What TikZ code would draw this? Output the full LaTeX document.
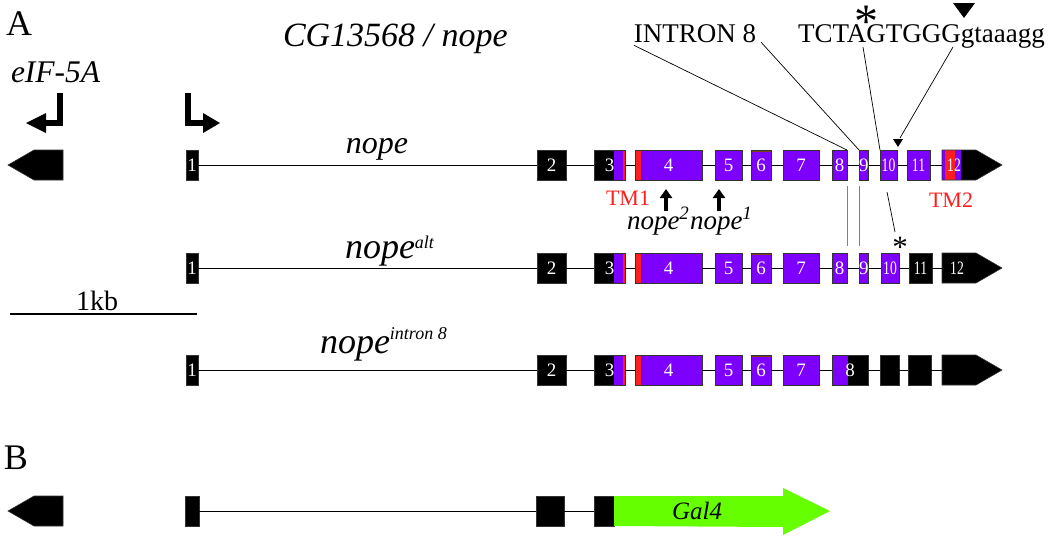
\documentclass[tikz,border=0pt]{standalone}
\usepackage{fontspec}
\setmainfont{Liberation Serif}
\usetikzlibrary{shapes.symbols,arrows.meta}
\definecolor{np}{RGB}{125,0,255}
\definecolor{tmred}{RGB}{255,30,30}
\definecolor{gal}{RGB}{102,255,0}
\definecolor{brn}{RGB}{130,60,30}
\newcommand\fs[1]{\fontsize{#1}{#1}\selectfont}
\newcommand\nn[1]{\scalebox{0.72}[1]{#1}}
\newcommand\sups[2]{\raisebox{#1pt}{\fs{18}#2}}
\newcommand\strip[3]{\fill[#3] ([xshift=#1pt]path picture bounding box.south west) rectangle ([xshift=#2pt]path picture bounding box.north west);}
\newcommand\brtop{\fill[brn] (path picture bounding box.north west) rectangle ([yshift=-1.5pt]path picture bounding box.north east);}
\begin{document}
\begin{tikzpicture}[x=1pt,y=-1pt,
  exon/.style={draw=black!80, line width=0.6pt, minimum height=30pt, inner sep=0pt, outer sep=0pt, anchor=west, text=white, font=\fs{19}},
  blk/.style={exon, fill=black},
  pur/.style={exon, fill=np},
  tipexon/.style={exon, shape=signal, signal to=east, signal pointer angle=60, fill=black},
  numl/.style={inner sep=0pt, text=white, font=\fs{19}},
  intron/.style={line width=1pt},
  lab/.style={inner sep=0pt, outer sep=0pt},
  pointer/.style={line width=0.7pt},
  upar/.style={line width=3.5pt, -{Triangle[width=12pt,length=9pt]}},
  prom/.style={line width=6pt, line join=miter}
]
\useasboundingbox (0,0) rectangle (1050,539);

% ---------- labels ----------
\node[lab, anchor=base west, font=\fs{36}] (pA) at (6,35) {A};
\node[lab, anchor=base west, font=\fs{36}] (pB) at (4,469) {B};
\node[lab, anchor=base west, font=\fs{34}\itshape] (title) at (283,46) {CG13568 / nope};
\node[lab, anchor=base west, font=\fs{31.5}\itshape] (eiflab) at (11,82) {eIF-5A};
\node[lab, anchor=base, font=\fs{32}\itshape] (r1lab) at (377,153) {nope};
\node[lab, anchor=base west, font=\fs{36}\itshape] (r2lab) at (345,258) {nope\sups{10}{alt}};
\node[lab, anchor=base west, font=\fs{36}\itshape] (r3lab) at (320,353) {nope\sups{14}{intron 8}};
\node[lab, anchor=base, font=\fs{28}] (kb) at (97,310) {1kb};
\node[lab, anchor=base, font=\fs{27}] (intr) at (695,42) {INTRON 8};
\node[lab, anchor=base west, font=\fs{27}] (seq) at (798,42) {TCTAGTGGGgtaaagg};
\node[lab, anchor=base, font=\fs{48}] (ast1) at (866,37) {*};
\node[lab, anchor=base, font=\fs{31}] (ast2) at (900,257) {*};
\node[lab, font=\fs{22}, text=tmred] (tm1) at (628,198) {TM1};
\node[lab, font=\fs{22}, text=tmred] (tm2) at (951,200) {TM2};
\node[lab, anchor=base west, font=\fs{27}\itshape] (m2) at (627,229) {nope\textsuperscript{2}};
\node[lab, anchor=base west, font=\fs{27}\itshape] (m1) at (690,229) {nope\textsuperscript{1}};

% scale bar
\draw[line width=2.5pt] (10,314) -- (197,314);

% promoter arrows
\draw[prom] (60,93) -- (60,123) -- (46,123);
\fill (46,113) -- (26,123) -- (46,133) -- cycle;
\draw[prom] (188,93) -- (188,123) -- (203,123);
\fill (203,113) -- (220,123) -- (203,133) -- cycle;

% ---------- row 1: nope ----------
\node[tipexon, signal to=west, minimum width=55pt, anchor=east] (r1eif) at (63,165) {};
\node[blk, minimum width=12pt] (r1e1) at (186,165) {1};
\node[blk, minimum width=29pt] (r1e2) at (537,165) {2};
\node[blk, minimum width=31pt, path picture={\strip{20}{29}{np}\strip{29}{31}{tmred}}] (r1e3) at (594,165) {3\hspace{12pt}};
\node[pur, minimum width=67pt, path picture={\strip{0}{6}{tmred}}] (r1e4) at (635,165) {4\hspace{8pt}};
\node[pur, minimum width=27pt] (r1e5) at (715,165) {5};
\node[pur, minimum width=20pt, path picture={\brtop}] (r1e6) at (751,165) {6};
\node[pur, minimum width=36pt] (r1e7) at (783,165) {7};
\node[pur, minimum width=15pt] (r1e8) at (832,165) {8};
\node[pur, minimum width=8pt] (r1e9) at (859,165) {9};
\node[pur, minimum width=17pt] (r1e10) at (880,165) {\nn{10}};
\node[pur, minimum width=23pt] (r1e11) at (907,165) {\nn{11}};
\node[tipexon, minimum width=60pt, path picture={\strip{0}{3}{np}\strip{3}{13}{tmred}\strip{13}{19}{np}}] (r1e12) at (942,165) {};
\node[numl] (r1n12) at (954,165) {\nn{12}};
\foreach \p/\q in {r1e1/r1e2,r1e2/r1e3,r1e3/r1e4,r1e4/r1e5,r1e5/r1e6,r1e6/r1e7,r1e7/r1e8,r1e8/r1e9,r1e9/r1e10,r1e10/r1e11,r1e11/r1e12}
  \draw[intron] (\p.east) -- (\q.west);

% ---------- row 2: nope alt ----------
\node[blk, minimum width=12pt] (r2e1) at (186,268) {1};
\node[blk, minimum width=29pt] (r2e2) at (537,268) {2};
\node[blk, minimum width=31pt, path picture={\strip{20}{29}{np}\strip{29}{31}{tmred}}] (r2e3) at (594,268) {3\hspace{12pt}};
\node[pur, minimum width=67pt, path picture={\strip{0}{6}{tmred}}] (r2e4) at (635,268) {4\hspace{8pt}};
\node[pur, minimum width=27pt] (r2e5) at (715,268) {5};
\node[pur, minimum width=20pt, path picture={\brtop}] (r2e6) at (751,268) {6};
\node[pur, minimum width=36pt] (r2e7) at (783,268) {7};
\node[pur, minimum width=15pt] (r2e8) at (832,268) {8};
\node[pur, minimum width=8pt] (r2e9) at (859,268) {9};
\node[pur, minimum width=18pt] (r2e10) at (881,268) {\nn{10}};
\node[blk, minimum width=23pt] (r2e11) at (909,268) {\nn{11}};
\node[tipexon, minimum width=60pt] (r2e12) at (942,268) {};
\node[numl] (r2n12) at (957,268) {\nn{12}};
\foreach \p/\q in {r2e1/r2e2,r2e2/r2e3,r2e3/r2e4,r2e4/r2e5,r2e5/r2e6,r2e6/r2e7,r2e7/r2e8,r2e8/r2e9,r2e9/r2e10,r2e10/r2e11,r2e11/r2e12}
  \draw[intron] (\p.east) -- (\q.west);

% ---------- row 3: nope intron 8 ----------
\node[blk, minimum width=12pt] (r3e1) at (186,370) {1};
\node[blk, minimum width=29pt] (r3e2) at (537,370) {2};
\node[blk, minimum width=31pt, path picture={\strip{20}{29}{np}\strip{29}{31}{tmred}}] (r3e3) at (594,370) {3\hspace{12pt}};
\node[pur, minimum width=67pt, path picture={\strip{0}{6}{tmred}}] (r3e4) at (635,370) {4\hspace{8pt}};
\node[pur, minimum width=27pt] (r3e5) at (715,370) {5};
\node[pur, minimum width=20pt, path picture={\brtop}] (r3e6) at (751,370) {6};
\node[pur, minimum width=36pt] (r3e7) at (783,370) {7};
\node[pur, minimum width=36pt, path picture={\strip{16}{36}{black}}] (r3e8) at (832,370) {8\hspace{20pt}};
\node[blk, minimum width=19pt] (r3x1) at (880,370) {};
\node[blk, minimum width=23pt] (r3x2) at (908,370) {};
\node[tipexon, minimum width=60pt] (r3x3) at (942,370) {};
\foreach \p/\q in {r3e1/r3e2,r3e2/r3e3,r3e3/r3e4,r3e4/r3e5,r3e5/r3e6,r3e6/r3e7,r3e7/r3e8,r3e8/r3x1,r3x1/r3x2,r3x2/r3x3}
  \draw[intron] (\p.east) -- (\q.west);

% ---------- row B ----------
\node[tipexon, signal to=west, minimum width=55pt, anchor=east] (rbeif) at (63,511) {};
\node[blk, minimum width=14pt] (rb1) at (185,511) {};
\node[blk, minimum width=28pt] (rb2) at (536,511) {};
\node[blk, minimum width=20pt] (rb3) at (594,511) {};
\draw[intron] (rb1.east) -- (rb2.west);
\draw[intron] (rb2.east) -- (rb3.west);
\fill[gal] (rb3.north east) -- (783,496) -- (783,488) -- (830,511) -- (783,535) -- (783,527) -- (rb3.south east) -- cycle;
\node[lab, font=\fs{25}\itshape] (gal4) at (697,511) {Gal4};

% ---------- pointer lines ----------
\draw[pointer] ([yshift=-3pt]intr.south west) -- (r1e8.north east);
\draw[pointer] ([xshift=5pt]intr.south east) -- (r1e9.north west);
\coordinate (l3s) at (863,47);
\draw[pointer] (l3s) -- (r1e10.north west);
\coordinate (l4s) at (953,47);
\coordinate (l4e) at (900,138);
\draw[pointer] (l4s) -- (l4e);
\fill (893,139) -- (903,139) -- (898,147) -- cycle;
\fill (953,3) -- (975,3) -- (964,18) -- cycle;

\draw[gray, line width=0.8pt] ([yshift=-6pt]r1e8.south east) -- ([yshift=7pt]r2e8.north east);
\draw[gray, line width=0.8pt] ([yshift=-6pt]r1e9.south west) -- ([yshift=7pt]r2e9.north west);
\coordinate (s1) at (887,192);
\coordinate (s2) at (895,232);
\draw[pointer] (s1) -- (s2);

\draw[upar] (666,211) -- (666,189);
\draw[upar] (719,211) -- (719,189);
\end{tikzpicture}
\end{document}
